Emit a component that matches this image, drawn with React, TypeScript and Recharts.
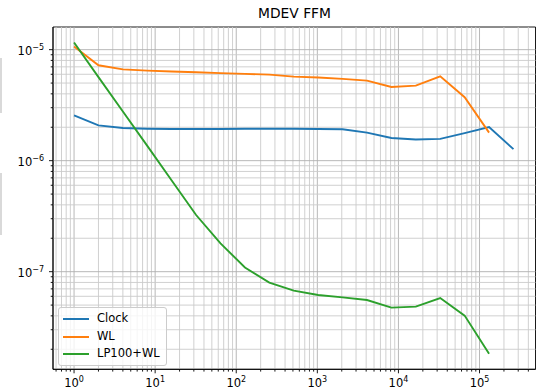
import { LineChart, Line, XAxis, YAxis, ReferenceLine, ReferenceArea, Legend } from 'recharts';

const TAU = [1, 2, 4, 8, 16, 32, 64, 128, 256, 512, 1024, 2048, 4096, 8192, 16384, 32768, 65536, 131072, 262144];

const CLOCK = [
  2.56e-6, 2.08e-6, 1.97e-6, 1.94e-6, 1.93e-6, 1.93e-6, 1.93e-6, 1.94e-6, 1.94e-6, 1.94e-6,
  1.93e-6, 1.92e-6, 1.79e-6, 1.6e-6, 1.55e-6, 1.57e-6, 1.77e-6, 2.01e-6, 1.27e-6,
];

const WL = [
  1.07e-5, 7.23e-6, 6.65e-6, 6.47e-6, 6.35e-6, 6.25e-6, 6.15e-6, 6.05e-6, 5.96e-6, 5.72e-6,
  5.62e-6, 5.45e-6, 5.26e-6, 4.61e-6, 4.74e-6, 5.76e-6, 3.73e-6, 1.79e-6,
];

const LP100_WL = [
  1.16e-5, 5.66e-6, 2.77e-6, 1.36e-6, 6.63e-7, 3.24e-7, 1.8e-7, 1.09e-7, 7.96e-8, 6.74e-8,
  6.16e-8, 5.87e-8, 5.56e-8, 4.74e-8, 4.84e-8, 5.79e-8, 4.02e-8, 1.82e-8,
];

const SERIES = [
  { key: 'clock', name: 'Clock', color: '#1f77b4' },
  { key: 'wl', name: 'WL', color: '#ff7f0e' },
  { key: 'lp', name: 'LP100+WL', color: '#2ca02c' },
];

const X_DOMAIN = [0.55, 4.9e5];
const Y_DOMAIN = [1.32e-8, 1.6e-5];
const X_DECADES = [-1, 0, 1, 2, 3, 4, 5];
const Y_DECADES = [-8, -7, -6, -5];
const MANTISSAS = [1, 2, 3, 4, 5, 6, 7, 8, 9];

const FONT = 'DejaVu Sans';

const logTicks = (decades: number[], domain: number[]) =>
  decades
    .flatMap((d) => MANTISSAS.map((m) => Number((m * Math.pow(10, d)).toPrecision(6))))
    .filter((v) => v >= domain[0] && v <= domain[1]);

const xTicks = logTicks(X_DECADES, X_DOMAIN);
const yTicks = logTicks(Y_DECADES, Y_DOMAIN);

const isMajor = (v: number) => {
  const l = Math.log10(v);
  return Math.abs(l - Math.round(l)) < 1e-6;
};
const expLabel = (v: number) => {
  const e = Math.round(Math.log10(v));
  return e < 0 ? `\u2212${-e}` : `${e}`;
};

const data = TAU.map((t, i) => ({ tau: t, clock: CLOCK[i], wl: WL[i], lp: LP100_WL[i] }));

function XTick(props: any) {
  const { x, y, payload } = props;
  const major = isMajor(payload.value);
  return (
    <g>
      <line x1={x} x2={x} y1={y} y2={y + (major ? 4 : 2.3)} stroke="#000" strokeWidth={0.9} />
      {major && (
        <text x={x} y={y + 17.5} textAnchor="middle" fontSize={11.5} fontFamily={FONT} fill="#000">
          <tspan>10</tspan>
          <tspan dy={-4.5} fontSize={8}>{expLabel(payload.value)}</tspan>
        </text>
      )}
    </g>
  );
}

function YTick(props: any) {
  const { x, y, payload } = props;
  const major = isMajor(payload.value);
  return (
    <g>
      <line x1={x - (major ? 4 : 2.3)} x2={x} y1={y} y2={y} stroke="#000" strokeWidth={0.9} />
      {major && (
        <text x={x - 9} y={y + 5} textAnchor="end" fontSize={11.5} fontFamily={FONT} fill="#000">
          <tspan>10</tspan>
          <tspan dy={-4.5} fontSize={8}>{expLabel(payload.value)}</tspan>
        </text>
      )}
    </g>
  );
}

function LegendBox() {
  return (
    <div
      style={{
        border: '1px solid #cccccc',
        borderRadius: 3,
        background: 'rgba(255,255,255,0.8)',
        padding: '2px 6px 2px 4px',
        fontFamily: FONT,
        fontSize: 11.5,
        lineHeight: '17.7px',
      }}
    >
      {SERIES.map((s) => (
        <div key={s.key} style={{ display: 'flex', alignItems: 'center' }}>
          <span style={{ display: 'inline-block', width: 26, height: 2, background: s.color, marginRight: 8 }} />
          <span>{s.name}</span>
        </div>
      ))}
    </div>
  );
}

export default function App() {
  return (
    <div style={{ position: 'absolute', left: 0, top: 0, width: 539, height: 392, background: '#fff' }}>
      <div style={{ position: 'absolute', left: 0, top: 58, width: 2, height: 55, background: '#d9d9d9' }} />
      <div style={{ position: 'absolute', left: 0, top: 173, width: 2, height: 62, background: '#d9d9d9' }} />
      <div
        style={{
          position: 'absolute',
          left: 0,
          width: 589,
          top: 5,
          textAlign: 'center',
          fontFamily: FONT,
          fontSize: 13.8,
        }}
      >
        MDEV FFM
      </div>
      <LineChart width={539} height={392} data={data} margin={{ top: 27, right: 3.5, bottom: 0, left: 0 }}>
        <XAxis
          dataKey="tau"
          type="number"
          scale="log"
          domain={X_DOMAIN}
          allowDataOverflow
          ticks={xTicks}
          interval={0}
          tick={XTick}
          tickLine={false}
          tickSize={0}
          tickMargin={0}
          height={22.7}
          axisLine={{ stroke: '#000', strokeWidth: 0.9 }}
        />
        <YAxis
          type="number"
          scale="log"
          domain={Y_DOMAIN}
          allowDataOverflow
          ticks={yTicks}
          interval={0}
          tick={YTick}
          tickLine={false}
          tickSize={0}
          tickMargin={0}
          width={53}
          axisLine={{ stroke: '#000', strokeWidth: 0.9 }}
        />
        {xTicks.map((v) => (
          <ReferenceLine key={`gx${v}`} x={v} stroke={isMajor(v) ? '#b0b0b0' : '#cbcbcb'} strokeWidth={0.9} />
        ))}
        {yTicks.map((v) => (
          <ReferenceLine key={`gy${v}`} y={v} stroke={isMajor(v) ? '#b0b0b0' : '#cbcbcb'} strokeWidth={0.9} />
        ))}
        {SERIES.map((s) => (
          <Line
            key={s.key}
            dataKey={s.key}
            name={s.name}
            stroke={s.color}
            strokeWidth={1.9}
            dot={false}
            activeDot={false}
            isAnimationActive={false}
          />
        ))}
        <ReferenceArea
          x1={X_DOMAIN[0]}
          x2={X_DOMAIN[1]}
          y1={Y_DOMAIN[0]}
          y2={Y_DOMAIN[1]}
          fill="none"
          fillOpacity={0}
          stroke="#000"
          strokeWidth={0.9}
        />
        <Legend
          layout="horizontal"
          verticalAlign="middle"
          align="center"
          content={<LegendBox />}
          wrapperStyle={{ left: 58, top: 307, width: 'auto' }}
        />
      </LineChart>
    </div>
  );
}
